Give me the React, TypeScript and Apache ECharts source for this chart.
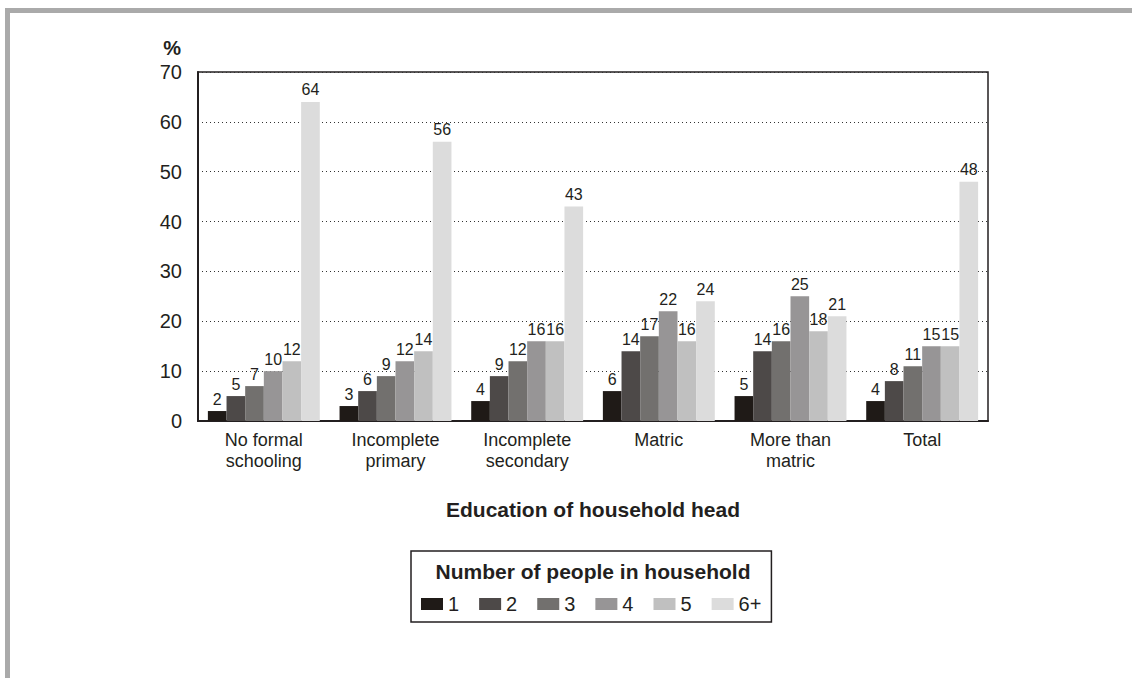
import React, { useEffect, useRef } from "react";
import * as echarts from "echarts";

const categories = [
  "No formal\nschooling",
  "Incomplete\nprimary",
  "Incomplete\nsecondary",
  "Matric",
  "More than\nmatric",
  "Total",
];

const householdSizes = ["1", "2", "3", "4", "5", "6+"];

const size1 = [2, 3, 4, 6, 5, 4];
const size2 = [5, 6, 9, 14, 14, 8];
const size3 = [7, 9, 12, 17, 16, 11];
const size4 = [10, 12, 16, 22, 25, 15];
const size5 = [12, 14, 16, 16, 18, 15];
const size6plus = [64, 56, 43, 24, 21, 48];

const seriesValues = [size1, size2, size3, size4, size5, size6plus];
const barColors = ["#1f1a17", "#4d4948", "#72706e", "#979596", "#c0c0c0", "#dcdcdc"];

const FONT = "Arial, 'Liberation Sans', Helvetica, sans-serif";
const INK = "#231f20";

export default function App() {
  const ref = useRef<HTMLDivElement>(null);

  useEffect(() => {
    if (!ref.current) return;
    const chart = echarts.init(ref.current, undefined, { renderer: "svg" });

    const option = {
      animation: false,
      backgroundColor: "#ffffff",
      textStyle: { fontFamily: FONT },
      grid: {
        left: 198,
        top: 72,
        right: 144,
        bottom: 257,
        show: true,
        borderColor: INK,
        borderWidth: 1.5,
        backgroundColor: "transparent",
      },
      legend: {
        data: householdSizes,
        left: 411,
        top: 551,
        orient: "horizontal",
        itemWidth: 22,
        itemHeight: 12,
        itemGap: 20,
        padding: [43, 10, 8, 10],
        borderColor: INK,
        borderWidth: 1.5,
        icon: "rect",
        textStyle: { fontSize: 20, color: INK, fontFamily: FONT },
      },
      xAxis: {
        type: "category",
        data: categories,
        name: "Education of household head",
        nameLocation: "middle",
        nameGap: 88,
        nameTextStyle: {
          fontSize: 21,
          fontWeight: "bold",
          color: INK,
          fontFamily: FONT,
          verticalAlign: "middle",
        },
        axisLine: { show: true, lineStyle: { color: INK, width: 2 } },
        axisTick: { show: false },
        axisLabel: {
          fontSize: 18,
          color: INK,
          margin: 8,
          lineHeight: 21,
          fontFamily: FONT,
          interval: 0,
        },
      },
      yAxis: {
        type: "value",
        min: 0,
        max: 70,
        interval: 10,
        name: "%",
        nameLocation: "end",
        nameGap: 24,
        nameTextStyle: {
          fontSize: 20,
          fontWeight: "bold",
          color: INK,
          fontFamily: FONT,
          align: "right",
          verticalAlign: "middle",
          padding: [0, 17, 0, 0],
        },
        axisLine: { show: true, lineStyle: { color: INK, width: 2 } },
        axisTick: { show: false },
        axisLabel: { fontSize: 20, color: INK, margin: 16, fontFamily: FONT },
        splitLine: {
          show: true,
          lineStyle: { color: "#333333", width: 1, type: [1, 3] },
        },
      },
      graphic: [
        {
          type: "rect",
          silent: true,
          shape: { x: 5, y: 8, width: 1127, height: 5 },
          style: { fill: "#aaaaaa" },
        },
        {
          type: "rect",
          silent: true,
          shape: { x: 5, y: 8, width: 5, height: 670 },
          style: { fill: "#aaaaaa" },
        },
        {
          type: "text",
          silent: true,
          x: 593,
          y: 571,
          style: {
            text: "Number of people in household",
            fontSize: 21,
            fontWeight: "bold",
            fill: INK,
            fontFamily: FONT,
            align: "center",
            verticalAlign: "middle",
          },
        },
      ],
      series: householdSizes.map((name, i) => ({
        name,
        type: "bar",
        data: seriesValues[i],
        barGap: "0%",
        barCategoryGap: "15%",
        itemStyle: { color: barColors[i] },
        label: {
          show: true,
          position: "top",
          distance: 4,
          fontSize: 16,
          color: INK,
          fontFamily: FONT,
        },
      })),
    };

    chart.setOption(option);
    return () => chart.dispose();
  }, []);

  return (
    <div
      ref={ref}
      style={{ position: "fixed", left: 0, top: 0, width: 1132, height: 678 }}
    />
  );
}
